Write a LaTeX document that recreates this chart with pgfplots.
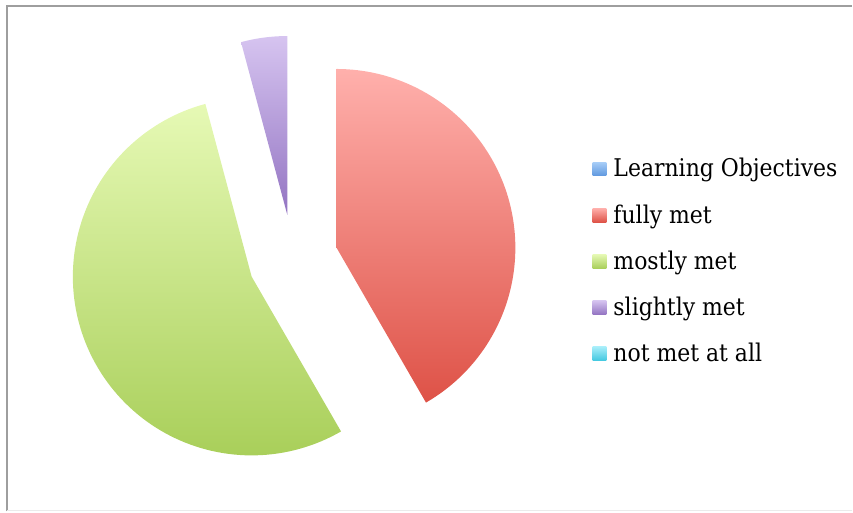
\documentclass[border=0pt]{standalone}
\usepackage{pgfplots}
\pgfplotsset{compat=1.18}
\usepackage{pgfplotstable}
\usepackage{fontspec}
\setmainfont{DejaVu Serif Condensed}

\definecolor{redTop}{HTML}{FFB0AC}
\definecolor{redBot}{HTML}{DE5247}
\definecolor{greenTop}{HTML}{E6F9B5}
\definecolor{greenBot}{HTML}{A9CF5A}
\definecolor{purpleTop}{HTML}{D6C4F0}
\definecolor{purpleBot}{HTML}{9374C2}
\definecolor{blueTop}{HTML}{A8CEF8}
\definecolor{blueBot}{HTML}{5E97DE}
\definecolor{cyanTop}{HTML}{A8EEFA}
\definecolor{cyanBot}{HTML}{42C8E0}

% Learning Objectives: number of responses per category
\pgfplotstableread{
label value
fully 10
mostly 13
slightly 1
notmet 0
}\piedata

\begin{document}
\begin{tikzpicture}
\pgfplotstablegetelem{0}{value}\of\piedata \let\vA\pgfplotsretval
\pgfplotstablegetelem{1}{value}\of\piedata \let\vB\pgfplotsretval
\pgfplotstablegetelem{2}{value}\of\piedata \let\vC\pgfplotsretval
\pgfplotstablegetelem{3}{value}\of\piedata \let\vD\pgfplotsretval
\pgfmathsetmacro\total{\vA+\vB+\vC+\vD}
\pgfmathsetmacro\aA{360*\vA/\total}
\pgfmathsetmacro\aB{\aA+360*\vB/\total}
\pgfmathsetmacro\aC{\aB+360*\vC/\total}
\def\cx{293.5}\def\cy{259.7}\def\d{45}\def\r{179}
\pgfmathsetmacro\mA{\aA/2}
\pgfmathsetmacro\mB{(\aA+\aB)/2}
\pgfmathsetmacro\mC{(\aB+\aC)/2}
\pgfmathsetmacro\oxA{\cx+\d*sin(\mA)}\pgfmathsetmacro\oyA{\cy-\d*cos(\mA)}
\pgfmathsetmacro\oxB{\cx+\d*sin(\mB)}\pgfmathsetmacro\oyB{\cy-\d*cos(\mB)}
\pgfmathsetmacro\oxC{\cx+\d*sin(\mC)}\pgfmathsetmacro\oyC{\cy-\d*cos(\mC)}
\begin{axis}[
  scale only axis, width=853bp, height=512bp,
  xmin=0, xmax=853, ymin=0, ymax=512, y dir=reverse,
  hide axis, clip=false,
  legend cell align=left,
  legend style={at={(axis cs:593,158)}, anchor=north west, draw=none, fill=none,
    inner sep=0pt, row sep=20.2bp, column sep=7bp,
    font=\fontsize{24.5}{28}\selectfont,
    nodes={inner sep=0pt, text height=19bp, text depth=7bp}},
]
% page extent
\path (axis cs:0,0) rectangle (axis cs:853,512);
% frame
\draw[color=black!38, line width=2bp] (axis cs:7,512) -- (axis cs:7,6) -- (axis cs:853,6);
\draw[color=black!8, line width=1bp] (axis cs:7,511) -- (axis cs:853,511);
% slices
\addplot[forget plot, draw=none, top color=redTop, bottom color=redBot, domain=0:\aA, samples=90]
  ({\oxA+\r*sin(x)}, {\oyA-\r*cos(x)}) -- (axis cs:\oxA,\oyA) -- cycle;
\addplot[forget plot, draw=none, top color=greenTop, bottom color=greenBot, domain=\aA:\aB, samples=110]
  ({\oxB+\r*sin(x)}, {\oyB-\r*cos(x)}) -- (axis cs:\oxB,\oyB) -- cycle;
\addplot[forget plot, draw=none, top color=purpleTop, bottom color=purpleBot, domain=\aB:\aC, samples=20]
  ({\oxC+\r*sin(x)}, {\oyC-\r*cos(x)}) -- (axis cs:\oxC,\oyC) -- cycle;
% legend
\addlegendimage{legend image code/.code={\shade[draw=none,top color=blueTop,bottom color=blueBot] (0bp,-5bp) rectangle (14bp,9bp);}}
\addlegendentry{Learning Objectives}
\addlegendimage{legend image code/.code={\shade[draw=none,top color=redTop,bottom color=redBot] (0bp,-5bp) rectangle (14bp,9bp);}}
\addlegendentry{fully met}
\addlegendimage{legend image code/.code={\shade[draw=none,top color=greenTop,bottom color=greenBot] (0bp,-5bp) rectangle (14bp,9bp);}}
\addlegendentry{mostly met}
\addlegendimage{legend image code/.code={\shade[draw=none,top color=purpleTop,bottom color=purpleBot] (0bp,-5bp) rectangle (14bp,9bp);}}
\addlegendentry{slightly met}
\addlegendimage{legend image code/.code={\shade[draw=none,top color=cyanTop,bottom color=cyanBot] (0bp,-5bp) rectangle (14bp,9bp);}}
\addlegendentry{not met at all}
\end{axis}
\end{tikzpicture}
\end{document}
